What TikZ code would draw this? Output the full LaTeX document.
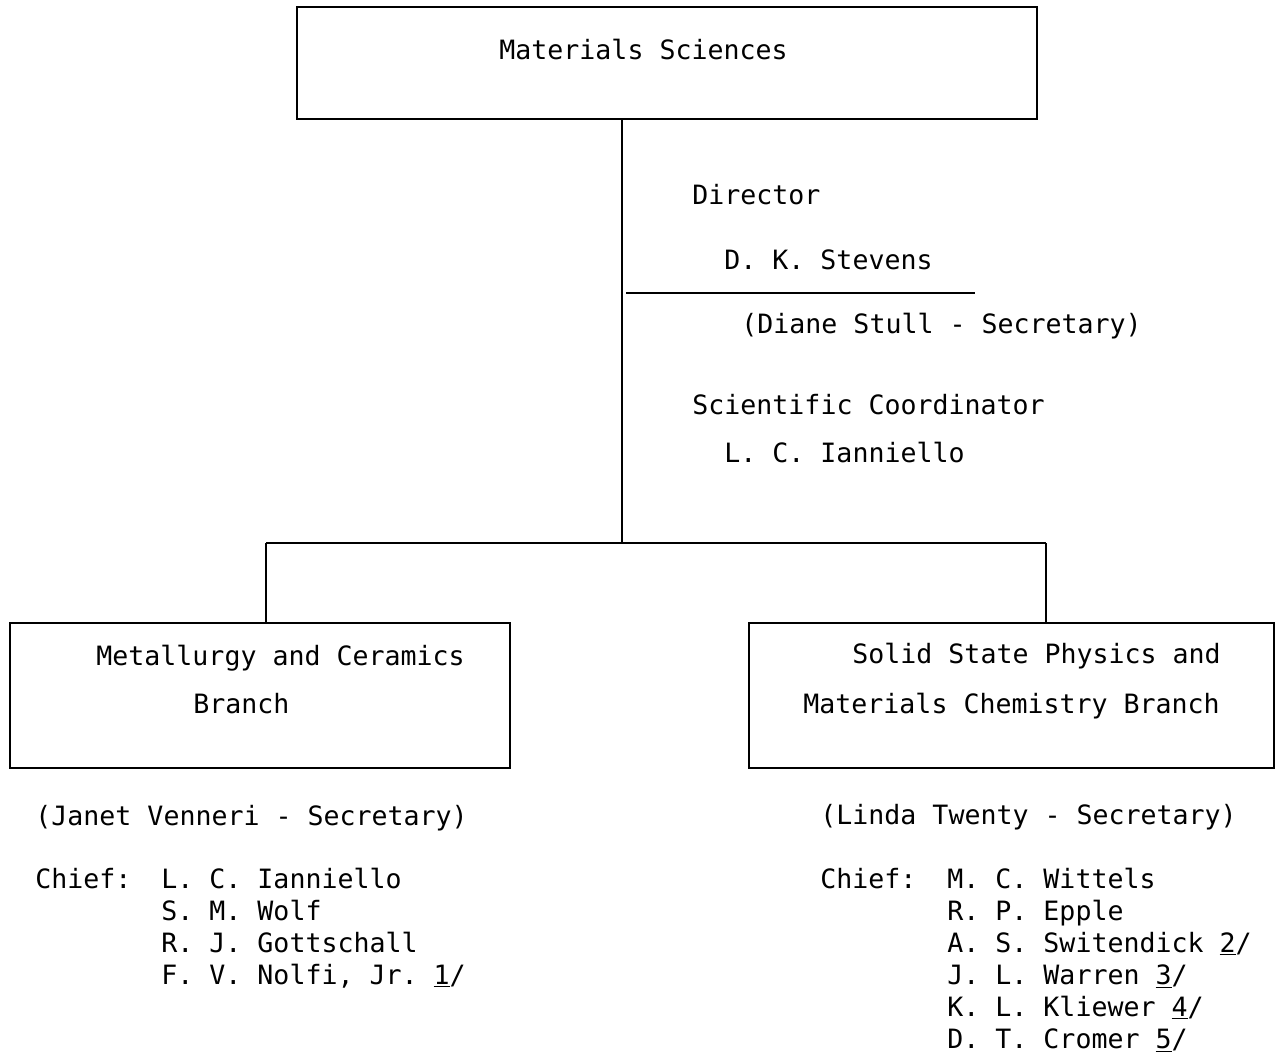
\documentclass[tikz,border=0pt]{standalone}
\usepackage{fontspec}
\setmonofont{DejaVu Sans Mono}
\tikzset{
  org_box/.style={draw, line width=1pt, inner sep=0pt},
  org_txt/.style={anchor=base west, inner sep=0pt,
      font=\ttfamily\fontsize{13.3}{16}\selectfont},
  org_line/.style={line width=1pt}
}
\newcommand{\fnote}[1]{\underline{#1}/}

\begin{document}
\begin{tikzpicture}[x=0.5pt,y=-0.5pt]
        \useasboundingbox (0,0) rectangle (1276,1054);
        % boxes
        \node[org_box, minimum width=370pt, minimum height=56pt] (ms) at (667,63) {};
        \node[org_box, minimum width=250pt, minimum height=72.5pt] (mc) at (260,695.5) {};
        \node[org_box, minimum width=262.5pt, minimum height=72.5pt] (ss) at (1011.5,695.5) {};
        \node[org_txt] (ms_t) at (499,60) {Materials Sciences};
        \node[org_txt] (mc_t1) at (96,665) {Metallurgy and Ceramics};
        \node[org_txt] (mc_t2) at (193,713) {Branch};
        \node[org_txt] (ss_t1) at (852,663) {Solid State Physics and};
        \node[org_txt] (ss_t2) at (803,713) {Materials Chemistry Branch};
        % tree
        \coordinate (hub) at (622,543);
        \coordinate (j_l) at (266,543);
        \coordinate (j_r) at (1046,543);
        \draw[org_line] (ms.south -| hub) -- (hub);
        \draw[org_line] (j_l) -- (j_r);
        \draw[org_line] (j_l) -- (mc.north -| j_l);
        \draw[org_line] (j_r) -- (ss.north -| j_r);
        % office
        \node[org_txt] (dir) at (692,205) {Director};
        \node[org_txt] (dir_n) at (724,270) {D. K. Stevens};
        \coordinate (rule_a) at (626,293);
        \coordinate (rule_b) at (975,293);
        \draw[org_line] (rule_a) -- (rule_b);
        \node[org_txt] (dir_s) at (741,333) {(Diane Stull - Secretary)};
        \node[org_txt] (coord) at (692,414) {Scientific Coordinator};
        \node[org_txt] (coord_n) at (724,462) {L. C. Ianniello};
        % staff
        \node[org_txt] (mc_s) at (35,825) {(Janet Venneri - Secretary)};
        \node[org_txt] (mc_c) at (35,888) {Chief:};
        \foreach \nm [count=\i from 0] in {L. C. Ianniello, S. M. Wolf,
            R. J. Gottschall, {F. V. Nolfi, Jr. \fnote{1}}} {
            \node[org_txt] (mc_\i) at (161,{888+32*\i}) {\nm};
          }
        \node[org_txt] (ss_s) at (820,824) {(Linda Twenty - Secretary)};
        \node[org_txt] (ss_c) at (820,888) {Chief:};
        \foreach \nm [count=\i from 0] in {M. C. Wittels, R. P. Epple,
            A. S. Switendick \fnote{2}, J. L. Warren \fnote{3},
            K. L. Kliewer \fnote{4}, D. T. Cromer \fnote{5}} {
            \node[org_txt] (ss_\i) at (947,{888+32*\i}) {\nm};
          }
      \end{tikzpicture}
\end{document}
